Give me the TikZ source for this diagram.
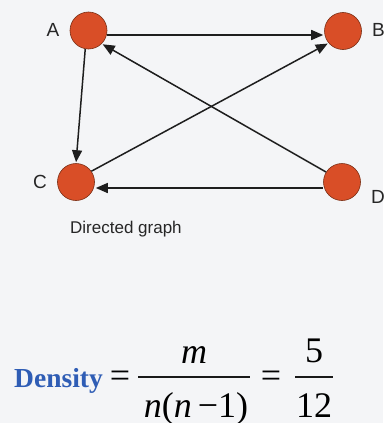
\documentclass[tikz,border=0pt]{standalone}
\usepackage{fontspec}
\setmainfont{Liberation Serif}
\newfontfamily\arialfont{Liberation Sans}
\usetikzlibrary{arrows.meta}
\definecolor{bgc}{HTML}{F4F5F7}
\definecolor{nodefill}{HTML}{D94E27}
\definecolor{nodeedge}{HTML}{7A2E14}
\definecolor{densblue}{HTML}{2F5DB5}
\definecolor{edgec}{HTML}{1E1E1E}
\tikzset{
  vertex/.style={circle, fill=nodefill, draw=nodeedge, line width=0.6pt, minimum size=37pt, inner sep=0pt},
  vlabel/.style={font=\arialfont\fontsize{19}{21}\selectfont, text=black!85, inner sep=0pt},
  edgeline/.style={draw=edgec, line width=1.5pt, -{Triangle[length=12pt,width=10pt]}, shorten >=1pt},
  formula/.style={inner sep=0pt, font=\fontsize{36}{40}\selectfont},
  fracrule/.style={line width=1.1pt, draw=black!90}
}
\begin{document}
\begin{tikzpicture}[x=1pt,y=-1pt]
\fill[bgc] (0,0) rectangle (383,423);
\useasboundingbox (0,0) rectangle (383,423);
\node[vertex] (A) at (88.5,30.5) {};
\node[vertex] (B) at (343,31) {};
\node[vertex] (C) at (76,182) {};
\node[vertex] (D) at (342,182) {};
\node[vlabel] (lA) at (53,30) {A};
\node[vlabel, anchor=west] (lB) at (372,30) {B};
\node[vlabel] (lC) at (40,182) {C};
\node[vlabel, anchor=west] (lD) at (371,197) {D};
\node[font=\arialfont\fontsize{17}{20}\selectfont, text=black!85, anchor=west, inner sep=0pt] (cap) at (70,229) {Directed graph};
\draw[edgeline] (A.east |- 0,35) -- (B.west |- 0,35);
\draw[edgeline] (A.-100) -- (C.north);
\draw[edgeline] (C.35) -- (B.-140);
\draw[edgeline] (D.148) -- (A.-45);
\draw[edgeline] (D.west |- 0,188) -- (C.east |- 0,188);
% formula
\node[inner sep=0pt, anchor=base west, text=densblue, font=\bfseries\fontsize{27.5}{30}\selectfont] (dens) at (14,387) {Density};
\node[formula, anchor=base] (eq1) at (120,387) {=};
\node[formula, anchor=base] (num1) at (194,363) {\itshape m};
\node[formula, anchor=base] (den1) at (196,417) {\itshape n\upshape(\itshape n\upshape\,\char"2212 1)};
\draw[fracrule] (138,377) -- (250,377);
\node[formula, anchor=base] (eq2) at (271,387) {=};
\node[formula, anchor=base] (num2) at (314,362) {5};
\node[formula, anchor=base] (den2) at (314,417) {12};
\draw[fracrule] (295,377) -- (333,377);
\end{tikzpicture}
\end{document}
